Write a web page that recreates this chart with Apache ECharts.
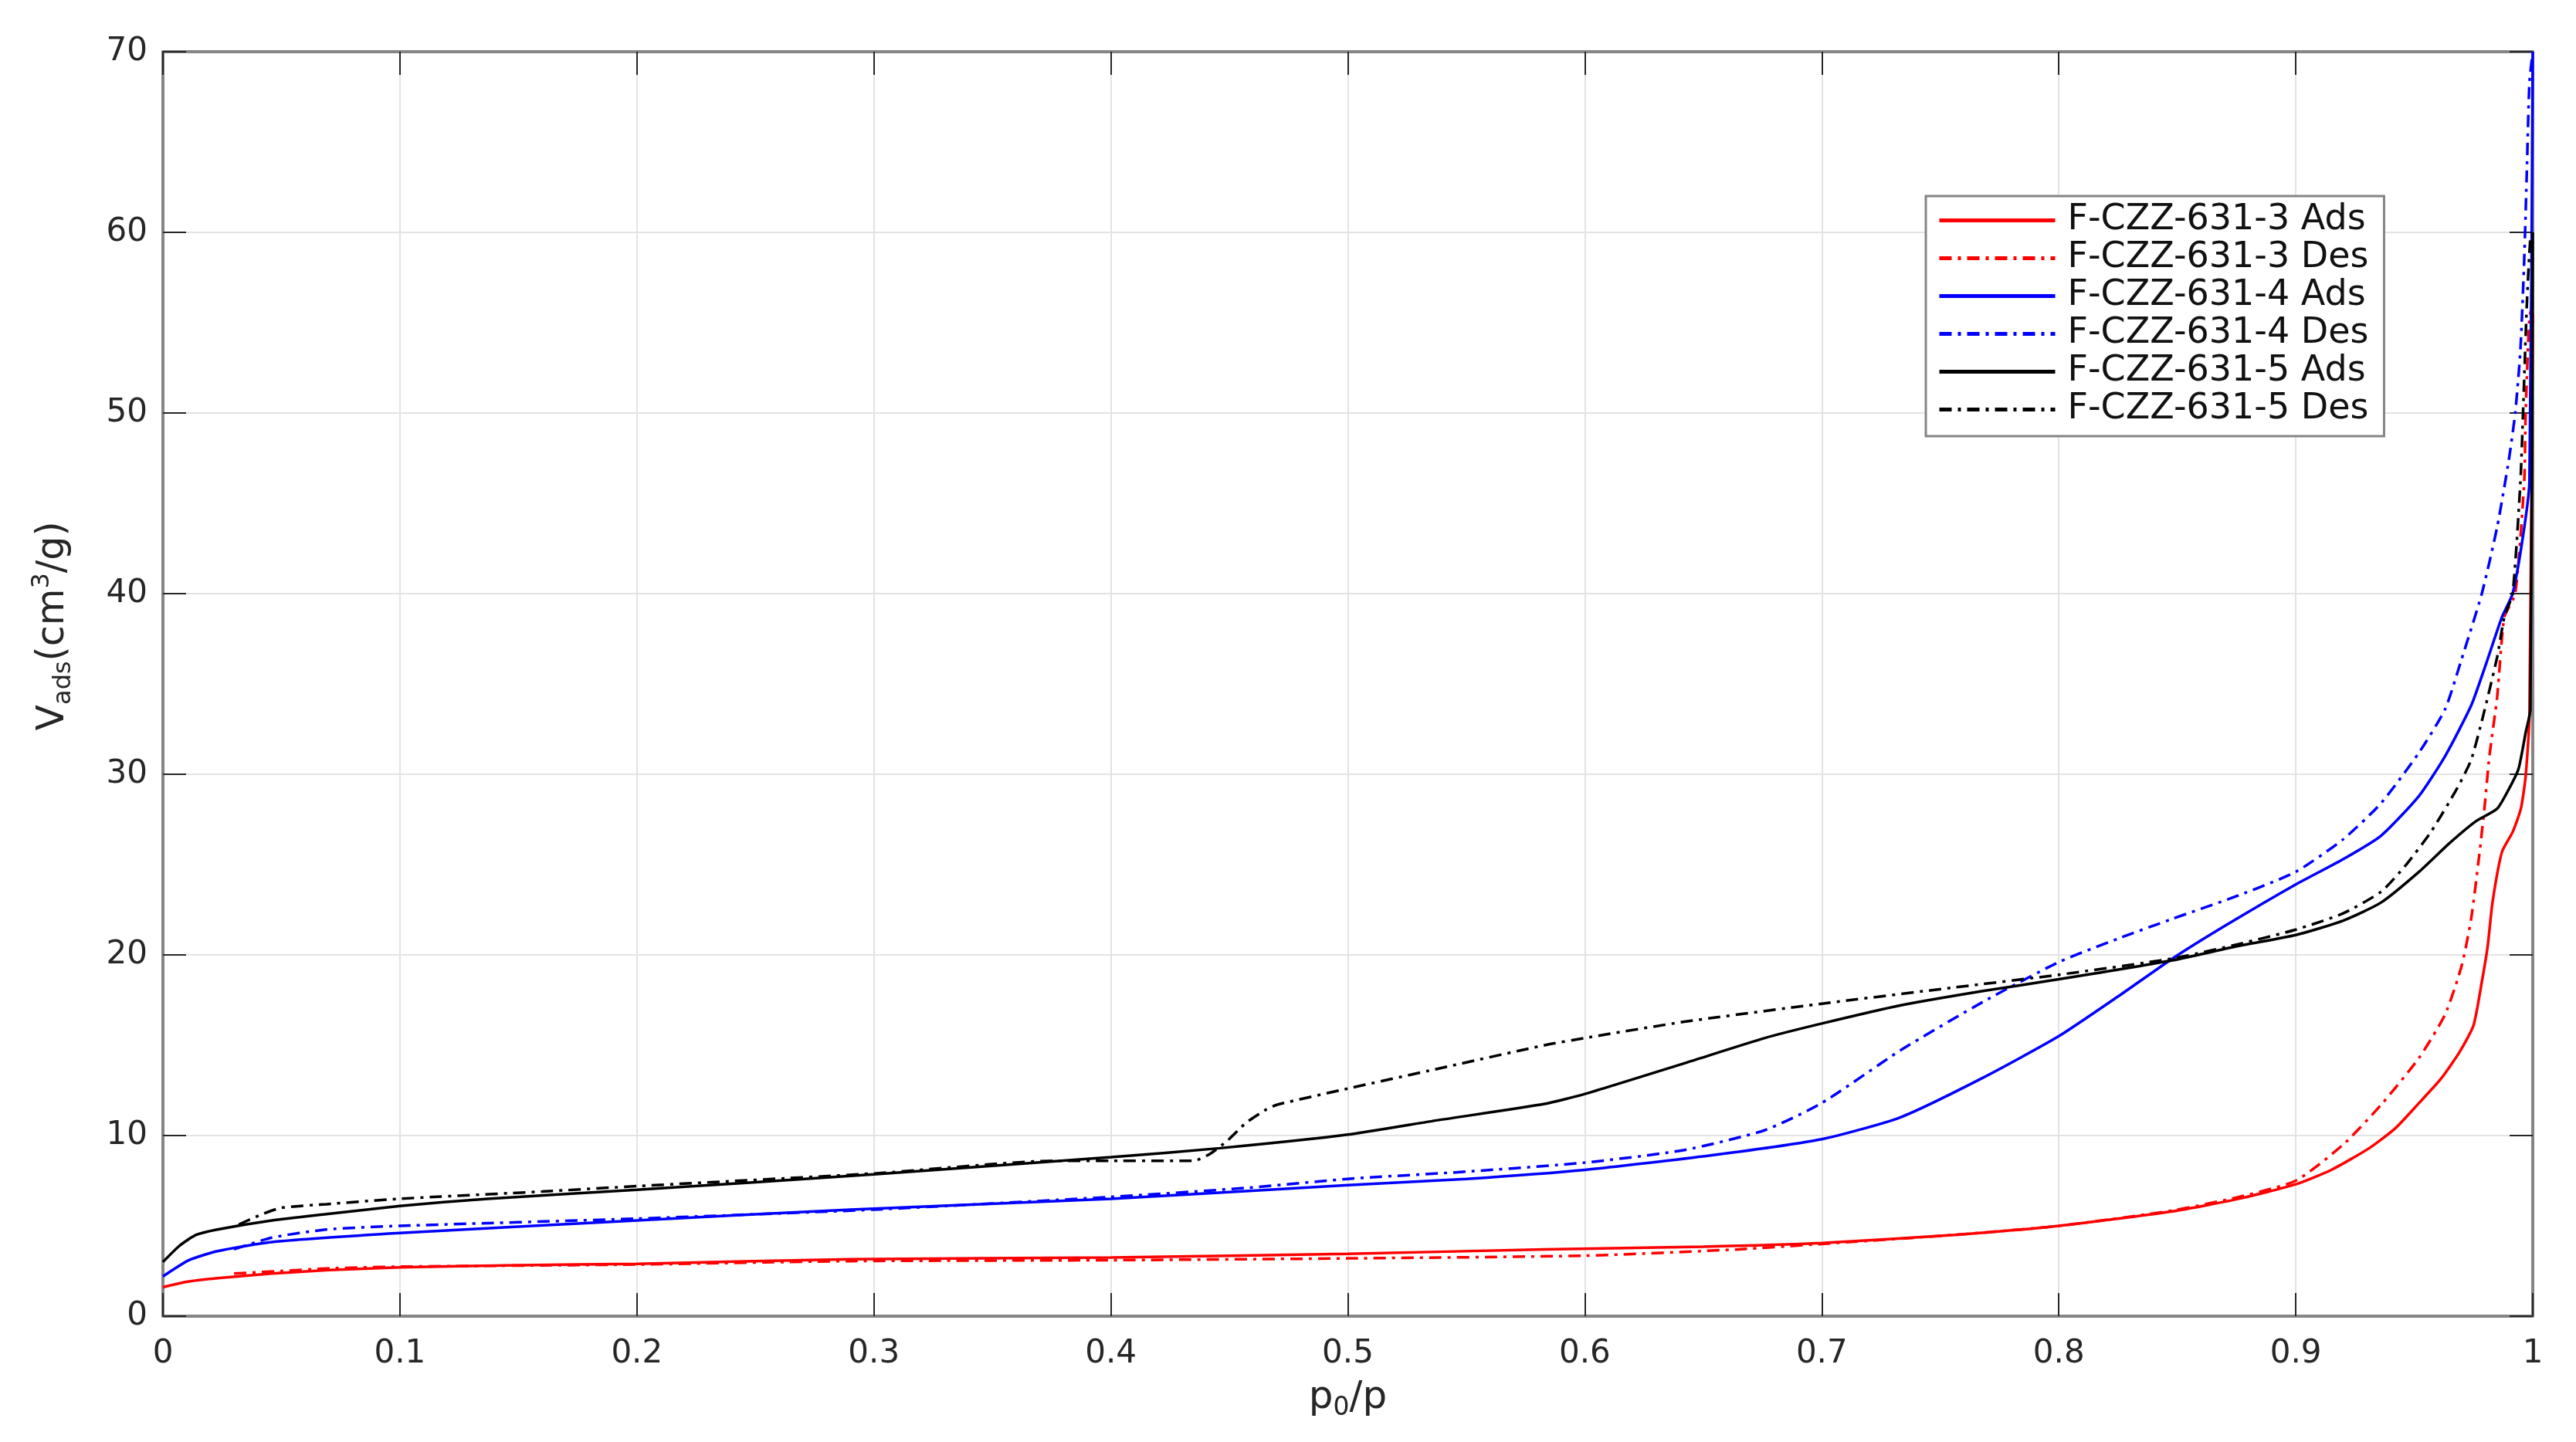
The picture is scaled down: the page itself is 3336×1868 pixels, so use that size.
<!DOCTYPE html>
<html lang="en">

<head>
    <meta charset="UTF-8">
    <title>isotherm</title>
    <style>
        html,
        body,
        #chart {
            margin: 0;
            padding: 0;
            overflow: hidden;
            width: 100%;
            height: 100%;
            background: #fff;
        }
    </style>
</head>

<body>
    <div id="chart"></div>
    <script src="https://cdn.jsdelivr.net/npm/echarts@6/dist/echarts.min.js"></script>
    <script>
        // [p0/p, Vads] pairs
        var redAds = [
            [0, 1.6], [0.01, 1.9], [0.023, 2.1], [0.046, 2.36], [0.07, 2.55], [0.1, 2.7],
            [0.15, 2.82], [0.2, 2.9], [0.29, 3.15], [0.4, 3.25], [0.5, 3.45], [0.583, 3.7],
            [0.65, 3.85], [0.7, 4.05], [0.756, 4.5], [0.8, 5.0], [0.848, 5.8], [0.876, 6.5],
            [0.9, 7.3], [0.915, 8.1], [0.931, 9.3], [0.942, 10.4], [0.952, 11.8], [0.961, 13.1],
            [0.969, 14.6], [0.975, 16.1], [0.9785, 18.5], [0.981, 20.5], [0.983, 22.9],
            [0.987, 25.7], [0.9915, 26.8], [0.995, 28.1], [0.997, 29.9], [0.9986, 33.2], [1.0, 55.5]
        ];
        var redDes = [
            [0.03, 2.36], [0.05, 2.5], [0.069, 2.64], [0.1, 2.74], [0.2, 2.86], [0.29, 3.05],
            [0.4, 3.1], [0.5, 3.2], [0.6, 3.35], [0.665, 3.7], [0.7, 4.0], [0.756, 4.5],
            [0.8, 5.0], [0.848, 5.85], [0.876, 6.6], [0.9, 7.5], [0.92, 9.5], [0.936, 11.7],
            [0.952, 14.3], [0.963, 16.7], [0.97, 19.4], [0.974, 22.0], [0.9774, 25.5],
            [0.9796, 28.1], [0.9817, 31.0], [0.985, 34.3], [0.988, 38.7], [0.9926, 40],
            [0.9964, 46.2], [0.997, 50], [0.9986, 55.3], [1.0, 56]
        ];
        var blueAds = [
            [0, 2.2], [0.011, 3.1], [0.023, 3.6], [0.046, 4.1], [0.1, 4.6], [0.2, 5.3],
            [0.29, 5.9], [0.4, 6.5], [0.5, 7.25], [0.55, 7.6], [0.6, 8.1], [0.653, 8.9],
            [0.7, 9.8], [0.733, 11.0], [0.768, 13.2], [0.8, 15.5], [0.825, 17.7], [0.848, 19.8],
            [0.87, 21.6], [0.9, 23.9], [0.92, 25.3], [0.936, 26.6], [0.952, 28.8], [0.963, 31.0],
            [0.974, 33.8], [0.98, 36.0], [0.987, 38.7], [0.9915, 40], [0.9959, 43.2],
            [0.9986, 46.2], [1.0, 70]
        ];
        var blueDes = [
            [0.03, 3.7], [0.046, 4.35], [0.069, 4.8], [0.1, 5.0], [0.2, 5.4], [0.3, 5.9],
            [0.4, 6.6], [0.457, 7.1], [0.5, 7.6], [0.55, 8.0], [0.6, 8.5], [0.642, 9.2],
            [0.676, 10.3], [0.7, 11.8], [0.733, 14.7], [0.768, 17.4], [0.8, 19.6], [0.825, 20.9],
            [0.848, 22.0], [0.876, 23.3], [0.9, 24.6], [0.92, 26.4], [0.936, 28.4], [0.952, 31.2],
            [0.963, 33.6], [0.9698, 36.3], [0.9785, 40], [0.985, 43.7], [0.9899, 47.4],
            [0.9926, 50], [0.9948, 53.5], [0.9964, 58.5], [0.9975, 63.4], [0.9986, 68.3], [1.0, 70]
        ];
        var blackAds = [
            [0, 3.0], [0.007, 3.9], [0.014, 4.5], [0.023, 4.8], [0.046, 5.3], [0.069, 5.65],
            [0.1, 6.1], [0.137, 6.5], [0.2, 7.0], [0.3, 7.85], [0.4, 8.8], [0.446, 9.3],
            [0.5, 10.05], [0.538, 10.85], [0.583, 11.75], [0.6, 12.3], [0.642, 14.0], [0.676, 15.4],
            [0.7, 16.2], [0.733, 17.2], [0.768, 18.0], [0.8, 18.65], [0.848, 19.7], [0.876, 20.5],
            [0.9, 21.1], [0.92, 21.9], [0.936, 22.9], [0.952, 24.6], [0.965, 26.2], [0.976, 27.4],
            [0.985, 28.1], [0.99, 29.2], [0.994, 30.3], [0.997, 32.3], [0.999, 33.6], [1.0, 60]
        ];
        var blackDes = [
            [0.032, 5.07], [0.041, 5.6], [0.05, 6.0], [0.069, 6.2], [0.1, 6.5], [0.16, 6.9],
            [0.2, 7.2], [0.3, 7.9], [0.376, 8.6], [0.4, 8.6], [0.435, 8.6], [0.442, 9.0],
            [0.449, 9.7], [0.457, 10.7], [0.465, 11.4], [0.47, 11.7], [0.5, 12.6], [0.538, 13.7],
            [0.583, 15.0], [0.6, 15.4], [0.642, 16.3], [0.7, 17.3], [0.756, 18.2], [0.8, 18.9],
            [0.848, 19.8], [0.876, 20.6], [0.9, 21.4], [0.92, 22.3], [0.936, 23.5], [0.946, 24.9],
            [0.957, 26.8], [0.968, 29.2], [0.974, 30.8], [0.979, 33.2], [0.985, 36.5],
            [0.988, 38.7], [0.9915, 40], [0.9948, 46.2], [0.9959, 50], [0.9975, 56],
            [0.999, 59.7], [1.0, 60]
        ];

        var seriesNames = [
            "F-CZZ-631-3 Ads", "F-CZZ-631-3 Des",
            "F-CZZ-631-4 Ads", "F-CZZ-631-4 Des",
            "F-CZZ-631-5 Ads", "F-CZZ-631-5 Des"
        ];
        var seriesData = [redAds, redDes, blueAds, blueDes, blackAds, blackDes];
        var seriesColors = ["#ff0000", "#ff0000", "#0000ff", "#0000ff", "#000000", "#000000"];

        var font = "DejaVu Sans";
        var dashDot = [16, 8, 4, 8];

        var series = seriesData.map(function (d, i) {
            return {
                name: seriesNames[i],
                type: 'line',
                data: d,
                symbol: 'none',
                showSymbol: false,
                smooth: 0.2,
                animation: false,
                lineStyle: {
                    color: seriesColors[i],
                    width: 3.5,
                    type: i % 2 === 1 ? dashDot : 'solid'
                },
                itemStyle: { color: seriesColors[i] }
            };
        });

        var chart = echarts.init(document.getElementById('chart'));

        var tick = { show: true, inside: true, length: 30, lineStyle: { color: '#262626', width: 2 } };
        var frame = { show: true, onZero: false, lineStyle: { color: '#858585', width: 4 } };

        chart.setOption({
            animation: false,
            backgroundColor: '#fff',
            grid: { left: 211, right: 56, top: 67, bottom: 163 },
            legend: {
                orient: 'vertical',
                left: 2494,
                top: 254,
                padding: [7, 20, 10, 15],
                itemGap: 0,
                itemWidth: 150,
                itemHeight: 4,
                itemStyle: { opacity: 0 },
                lineStyle: { width: 5 },
                backgroundColor: '#fff',
                borderColor: '#858585',
                borderWidth: 3,
                borderRadius: 0,
                data: seriesNames,
                textStyle: {
                    fontFamily: font,
                    fontSize: 46,
                    lineHeight: 49,
                    color: '#111',
                    padding: [0, 0, 0, 11]
                }
            },
            xAxis: [{
                type: 'value',
                min: 0,
                max: 1,
                interval: 0.1,
                name: '{m|p}{sub|0}{m|/p}',
                nameLocation: 'middle',
                nameGap: 76,
                nameTextStyle: {
                    fontFamily: font,
                    color: '#262626',
                    rich: {
                        m: { fontFamily: font, fontSize: 50, lineHeight: 60, color: '#262626' },
                        sub: { fontFamily: font, fontSize: 33, lineHeight: 33, verticalAlign: 'bottom', color: '#262626' }
                    }
                },
                axisLine: frame,
                axisTick: tick,
                axisLabel: { fontFamily: font, fontSize: 42, color: '#262626', margin: 28 },
                splitLine: { show: true, lineStyle: { color: '#e3e3e3', width: 2 } }
            }, {
                type: 'value',
                position: 'top',
                min: 0,
                max: 1,
                interval: 0.1,
                axisLine: frame,
                axisTick: tick,
                axisLabel: { show: false },
                splitLine: { show: false }
            }],
            yAxis: [{
                type: 'value',
                min: 0,
                max: 70,
                interval: 10,
                name: '{m|V}{sub|ads}{m|(cm}{sup|3}{m|/g)}',
                nameLocation: 'middle',
                nameRotate: 90,
                nameGap: 112,
                nameTextStyle: {
                    fontFamily: font,
                    color: '#262626',
                    padding: [0, 0, 0, 150],
                    rich: {
                        m: { fontFamily: font, fontSize: 49, lineHeight: 60, color: '#262626' },
                        sub: { fontFamily: font, fontSize: 32, lineHeight: 32, verticalAlign: 'bottom', color: '#262626' },
                        sup: { fontFamily: font, fontSize: 32, lineHeight: 32, verticalAlign: 'top', color: '#262626' }
                    }
                },
                axisLine: frame,
                axisTick: tick,
                axisLabel: { fontFamily: font, fontSize: 42, color: '#262626', margin: 20 },
                splitLine: { show: true, lineStyle: { color: '#e3e3e3', width: 2 } }
            }, {
                type: 'value',
                position: 'right',
                min: 0,
                max: 70,
                interval: 10,
                axisLine: frame,
                axisTick: tick,
                axisLabel: { show: false },
                splitLine: { show: false }
            }],
            series: series
        });
    </script>
</body>

</html>
